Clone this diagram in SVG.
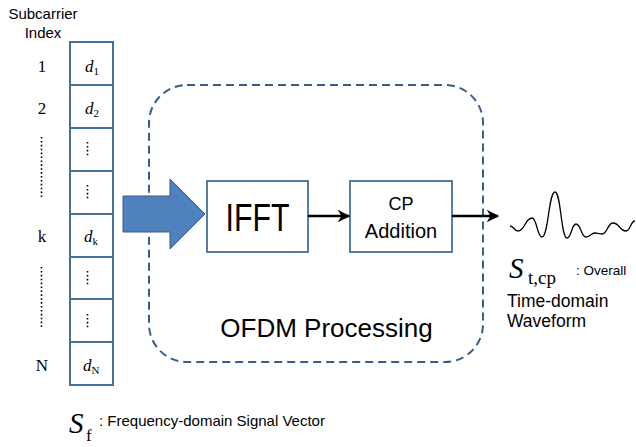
<svg xmlns="http://www.w3.org/2000/svg" width="636" height="447" viewBox="0 0 636 447">
<defs>
<style>
.cell{fill:#fff;stroke:#41719c;stroke-width:2}
.box{fill:#fff;stroke:#41719c;stroke-width:1.8}
.sans{font-family:"Liberation Sans",Arial,sans-serif;fill:#000}
.serif{font-family:"Liberation Serif","Times New Roman",serif;fill:#000}
.dots{stroke:#000;stroke-width:1.6;stroke-dasharray:1.6 2.3;fill:none}
.conn{stroke:#000;stroke-width:2.5;fill:none}
</style>
<marker id="ah" viewBox="0 0 10 10" refX="9" refY="5" markerWidth="5" markerHeight="5" orient="auto" markerUnits="strokeWidth">
<path d="M0,0 L10,5 L0,10 L3,5 Z" fill="#000"/>
</marker>
</defs>
<rect width="636" height="447" fill="#fff"/>

<g id="subcarrier-label">
<text class="sans" font-size="15" x="43" y="19" text-anchor="middle">Subcarrier</text>
<text class="sans" font-size="15" x="43" y="38" text-anchor="middle">Index</text>
</g>

<g id="index-column">
<text class="serif" font-size="17" x="42" y="72" text-anchor="middle">1</text>
<text class="serif" font-size="17" x="42" y="114" text-anchor="middle">2</text>
<line class="dots" x1="41.5" y1="137" x2="41.5" y2="198"/>
<text class="serif" font-size="17" x="42" y="242" text-anchor="middle">k</text>
<line class="dots" x1="41.5" y1="267" x2="41.5" y2="328"/>
<text class="serif" font-size="17" x="42" y="371" text-anchor="middle">N</text>
</g>

<g id="signal-vector">
<rect class="cell" x="70" y="42" width="43" height="43"/>
<rect class="cell" x="70" y="85" width="43" height="43"/>
<rect class="cell" x="70" y="128" width="43" height="43"/>
<rect class="cell" x="70" y="171" width="43" height="43"/>
<rect class="cell" x="70" y="214" width="43" height="43"/>
<rect class="cell" x="70" y="257" width="43" height="42"/>
<rect class="cell" x="70" y="299" width="43" height="43"/>
<rect class="cell" x="70" y="342" width="43" height="43"/>
<text class="serif" font-size="17" x="85" y="72"><tspan font-style="italic">d</tspan><tspan font-size="11" dy="3">1</tspan></text>
<text class="serif" font-size="17" x="85" y="114"><tspan font-style="italic">d</tspan><tspan font-size="11" dy="3">2</tspan></text>
<line class="dots" x1="87.5" y1="142" x2="87.5" y2="156"/>
<line class="dots" x1="87.5" y1="185" x2="87.5" y2="199"/>
<text class="serif" font-size="17" x="84" y="242"><tspan font-style="italic">d</tspan><tspan font-size="11" dy="3">k</tspan></text>
<line class="dots" x1="87.5" y1="271" x2="87.5" y2="285"/>
<line class="dots" x1="87.5" y1="314" x2="87.5" y2="328"/>
<text class="serif" font-size="17" x="83" y="371"><tspan font-style="italic">d</tspan><tspan font-size="11" dy="3">N</tspan></text>
</g>

<g id="sf-label">
<text class="serif" font-size="29" font-style="italic" x="69" y="433">S</text>
<text class="serif" font-size="17" x="86" y="441">f</text>
<text class="sans" font-size="15" x="99" y="426">: Frequency-domain Signal Vector</text>
</g>

<g id="ofdm-processing">
<rect x="149" y="85" width="334" height="277" rx="38" ry="38" fill="none" stroke="#385d8a" stroke-width="2" stroke-dasharray="8 5"/>
<text class="sans" font-size="26" x="326.5" y="337" text-anchor="middle">OFDM Processing</text>
</g>

<g id="input-arrow">
<polygon points="123,196 170,196 170,179 205,214 170,249 170,232 123,232" fill="#4f81bd" stroke="#385d8a" stroke-width="1"/>
</g>

<g id="ifft">
<rect class="box" x="207" y="181" width="101" height="71"/>
<text class="sans" font-size="38" x="257.5" y="231" text-anchor="middle" textLength="64" lengthAdjust="spacingAndGlyphs">IFFT</text>
</g>

<g id="cp-addition">
<rect class="box" x="350" y="181" width="102" height="71"/>
<text class="sans" font-size="18" x="401" y="210" text-anchor="middle">CP</text>
<text class="sans" font-size="20" x="401" y="238" text-anchor="middle">Addition</text>
</g>

<g id="connectors">
<line class="conn" x1="308" y1="216" x2="349" y2="216" marker-end="url(#ah)"/>
<line class="conn" x1="452" y1="216" x2="498" y2="216" marker-end="url(#ah)"/>
</g>

<g id="waveform">
<path d="M510,226 C514,226 514,231 518,231 C525,231 525,218 532,218 C537,218 537,237 542,237 C548.5,237 548.5,192 555,192 C561,192 561,238 567,238 C571.5,238 571.5,224 576,224 C581,224 581,237 586,237 C590.5,237 590.5,233 595,233 C598.5,233 598.5,234 602,234 C607.5,234 607.5,223 613,223 C619.5,223 619.5,231 626,231 C630.5,231 630.5,221 635,221" fill="none" stroke="#000" stroke-width="1.3"/>
<text class="serif" font-size="29" font-style="italic" x="509" y="278">S</text>
<text class="serif" font-size="19" x="528" y="284">t,cp</text>
<text class="sans" font-size="13.5" x="576" y="275">: Overall</text>
<text class="sans" font-size="17.5" x="507" y="307">Time-domain</text>
<text class="sans" font-size="17.5" x="507" y="327">Waveform</text>
</g>
</svg>
